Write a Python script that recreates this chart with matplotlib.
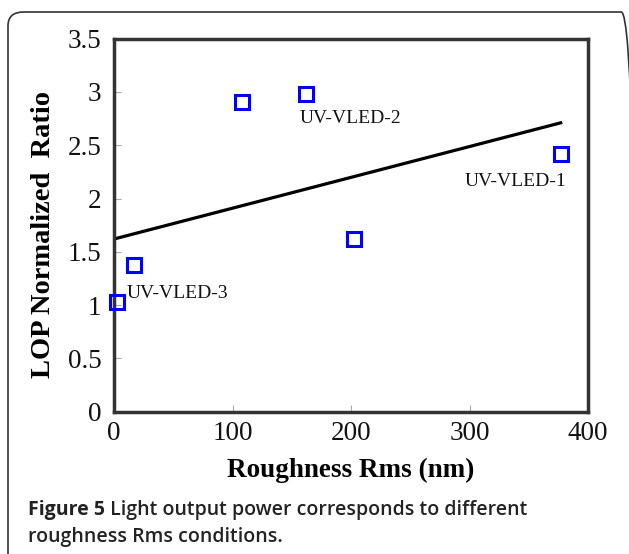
import matplotlib
matplotlib.use("Agg")
import matplotlib.pyplot as plt
from matplotlib.patches import FancyBboxPatch

roughness = [2.5, 17, 108, 162, 202.5, 377]
lop_ratio = [1.03, 1.375, 2.905, 2.98, 1.62, 2.42]
trend_x = [0, 377]
trend_y = [1.62, 2.71]
labels = ["UV-VLED-3", "UV-VLED-2", "UV-VLED-1"]
label_pos = [(11, 1.11), (157, 2.755), (382, 2.155)]
xticks = [0, 100, 200, 300, 400]
yticks = [0, 0.5, 1, 1.5, 2, 2.5, 3, 3.5]
ytick_labels = ["0", "0.5", "1", "1.5", "2", "2.5", "3", "3.5"]

serif = ["Liberation Serif", "DejaVu Serif"]
sans = ["Open Sans", "DejaVu Sans"]

fig = plt.figure(figsize=(6.29, 5.54), dpi=100)
frame = FancyBboxPatch((8/629, -0.2), 1.0, 1 - 12/554 + 0.2,
                       boxstyle="round,pad=0,rounding_size=0.025",
                       transform=fig.transFigure, fill=False,
                       edgecolor="#333333", linewidth=1.2, clip_on=False)
fig.patches.append(frame)

ax = fig.add_axes([114/629, 1 - 411.7/554, 474/629, 373.1/554])
ax.plot(trend_x, trend_y, color="black", linewidth=2.3, zorder=2)
ax.plot(roughness, lop_ratio, linestyle="none", marker="s", markersize=10,
        markerfacecolor="none", markeredgecolor="#0000ff", markeredgewidth=2.2,
        zorder=3, clip_on=False)

ha = ["left", "left", "right"]
for t, (x, y), h in zip(labels, label_pos, ha):
    ax.text(x, y, t, fontsize=14, family=serif, ha=h, va="center", color="#111111")

ax.set_xlim(0, 400)
ax.set_ylim(0, 3.5)
ax.set_xticks(xticks)
ax.set_yticks(yticks)
ax.set_yticklabels(ytick_labels)
ax.tick_params(direction="in", length=5, width=0.8, color="#aaaaaa",
               labelsize=19.5)
ax.tick_params(axis="x", pad=7)
ax.tick_params(axis="y", pad=9)
for lab in ax.get_xticklabels() + ax.get_yticklabels():
    lab.set_family(serif)
    lab.set_color("#111111")
for s in ax.spines.values():
    s.set_linewidth(2.5)
    s.set_color("#333333")

ax.set_xlabel("Roughness Rms (nm)", fontsize=19.5, fontweight="bold",
              family=serif, labelpad=8)
ax.set_ylabel("LOP Normalized  Ratio", fontsize=20.5, fontweight="bold",
              family=serif)
ax.yaxis.set_label_coords(-0.122, 0.4736)

t1 = fig.text(28/629, 1 - 510/554, "Figure 5", fontsize=14, fontweight="bold",
              family=sans, va="center", color="#222222")
fig.add_artist(plt.Annotation(" Light output power corresponds to different",
                              xy=(1, 0.5), xycoords=t1, va="center", ha="left",
                              fontsize=14, fontweight="semibold", family=sans,
                              color="#222222", annotation_clip=False))
fig.text(28/629, 1 - 537/554, "roughness Rms conditions.",
         fontsize=14, fontweight="semibold", family=sans, va="center",
         color="#222222")

fig.savefig("out.png", dpi=100)
